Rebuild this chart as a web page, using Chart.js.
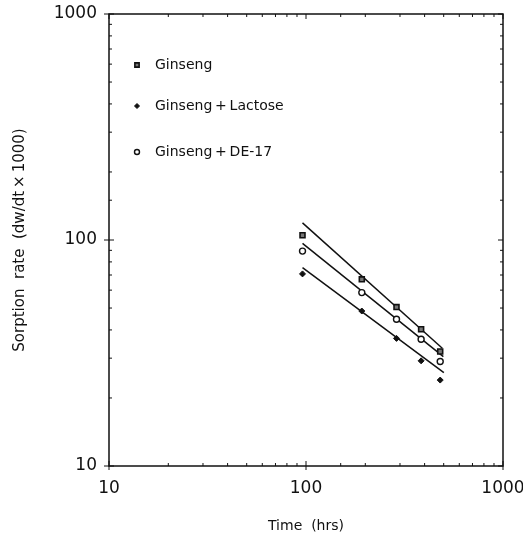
<!DOCTYPE html>
<html>
<head>
<meta charset="utf-8">
<script src="https://cdn.jsdelivr.net/npm/chart.js@4"></script>
<style>
  html, body { margin:0; padding:0; background:#fff; }
  #wrap { position:relative; width:523px; height:539px; }
</style>
</head>
<body>
<div id="wrap"><canvas id="chart" width="523" height="539"></canvas></div>
<script>
// time (hrs)
const timeHrs = [96, 192, 288, 384, 480];
// sorption rate (dw/dt x 1000)
const ginseng = [105, 67, 50.5, 40.3, 32.1];
const ginsengLactose = [70.8, 48.5, 36.7, 29.2, 24.0];
const ginsengDE17 = [89.3, 58.5, 44.6, 36.4, 29.0];
// fitted lines (start / end)
const ginsengFitX = [96, 492];
const ginsengFitY = [119, 33.2];
const lactoseFitX = [96, 501];
const lactoseFitY = [75.4, 25.9];
const de17FitX = [96, 498];
const de17FitY = [96.6, 30.5];
const legendLabels = ['Ginseng', 'Ginseng\u2009+\u2009Lactose', 'Ginseng\u2009+\u2009DE-17'];
const decadeTicks = [10, 100, 1000];

const pts = (xs, ys) => xs.map((x, i) => ({x: x, y: ys[i]}));
const FONT = '"DejaVu Sans", sans-serif';

const markers = [
  {pointStyle:'rect', radius:3.5, backgroundColor:'#777', borderColor:'#111', borderWidth:1.6},
  {pointStyle:'rectRot', radius:3, backgroundColor:'#111', borderColor:'#111', borderWidth:1},
  {pointStyle:'circle', radius:3, backgroundColor:'#fff', borderColor:'#111', borderWidth:1.4}
];

function scatterSet(label, data, m){
  return {label:label, type:'scatter', data:data, showLine:false,
    pointStyle:m.pointStyle, pointRadius:m.radius, pointBackgroundColor:m.backgroundColor,
    pointBorderColor:m.borderColor, pointBorderWidth:m.borderWidth};
}
function fitSet(data){
  return {type:'line', data:data, showLine:true, borderColor:'#111', borderWidth:1.5,
    pointRadius:0, fill:false, tension:0};
}

// frame + ticks on all four sides, legend inside
const decor = {
  id:'decor',
  afterDraw(chart){
    const ctx = chart.ctx, a = chart.chartArea;
    const xs = chart.scales.x, ys = chart.scales.y;
    ctx.save();
    ctx.strokeStyle = '#111';
    ctx.lineWidth = 1.5;
    ctx.strokeRect(a.left, a.top, a.right - a.left, a.bottom - a.top);
    ctx.lineWidth = 1;
    const isMajor = v => decadeTicks.includes(v);
    xs.ticks.forEach(t => {
      const px = xs.getPixelForValue(t.value);
      const inner = isMajor(t.value) ? 5 : 3;
      ctx.beginPath();
      ctx.moveTo(px, a.bottom + (isMajor(t.value) ? 4 : 0)); ctx.lineTo(px, a.bottom - inner);
      ctx.moveTo(px, a.top); ctx.lineTo(px, a.top + inner);
      ctx.stroke();
    });
    ys.ticks.forEach(t => {
      const py = ys.getPixelForValue(t.value);
      const inner = isMajor(t.value) ? 5 : 3;
      ctx.beginPath();
      ctx.moveTo(a.left - (isMajor(t.value) ? 5 : 0), py); ctx.lineTo(a.left + inner, py);
      ctx.moveTo(a.right, py); ctx.lineTo(a.right - inner, py);
      ctx.stroke();
    });
    // legend
    const rows = [65, 106, 152];
    ctx.font = '14px ' + FONT;
    ctx.textBaseline = 'middle';
    rows.forEach((y, i) => {
      const m = markers[i];
      ctx.fillStyle = m.backgroundColor;
      ctx.strokeStyle = m.borderColor;
      ctx.lineWidth = m.borderWidth;
      Chart.helpers.drawPoint(ctx, {pointStyle:m.pointStyle, radius:m.radius - 0.5, borderWidth:m.borderWidth}, 137, y);
      ctx.fillStyle = '#111';
      ctx.fillText(legendLabels[i], 155, y);
    });
    ctx.restore();
  }
};

new Chart(document.getElementById('chart'), {
  data:{
    datasets:[
      scatterSet(legendLabels[0], pts(timeHrs, ginseng), markers[0]),
      scatterSet(legendLabels[1], pts(timeHrs, ginsengLactose), markers[1]),
      scatterSet(legendLabels[2], pts(timeHrs, ginsengDE17), markers[2]),
      fitSet(pts(ginsengFitX, ginsengFitY)),
      fitSet(pts(lactoseFitX, lactoseFitY)),
      fitSet(pts(de17FitX, de17FitY))
    ]
  },
  options:{
    responsive:false,
    animation:false,
    layout:{padding:{top:14, right:20, left:0, bottom:0}},
    plugins:{legend:{display:false}, tooltip:{enabled:false}},
    scales:{
      x:{
        type:'logarithmic', min:10, max:1000,
        grid:{display:false}, border:{display:false},
        ticks:{color:'#111', font:{family:FONT, size:17}, padding:4, maxRotation:0, autoSkip:false,
          callback:v => decadeTicks.includes(v) ? String(v) : ''},
        title:{display:true, text:'Time  (hrs)', color:'#111', font:{family:FONT, size:14}, padding:{top:20}},
        afterFit:s => { s.height = 73; s.paddingLeft = 0; s.paddingRight = 0; }
      },
      y:{
        type:'logarithmic', min:10, max:1000,
        grid:{display:false}, border:{display:false},
        ticks:{color:'#111', font:{family:FONT, size:17}, padding:4, autoSkip:false,
          callback:v => decadeTicks.includes(v) ? String(v) : ''},
        title:{display:true, text:'Sorption  rate  (dw/dt\u2009\u00d7\u20091000)', color:'#111', font:{family:FONT, size:15}, padding:{top:11, bottom:12}},
        afterFit:s => { s.width = 109; s.paddingTop = 0; s.paddingBottom = 0; }
      }
    }
  },
  plugins:[decor]
});
</script>
</body>
</html>
